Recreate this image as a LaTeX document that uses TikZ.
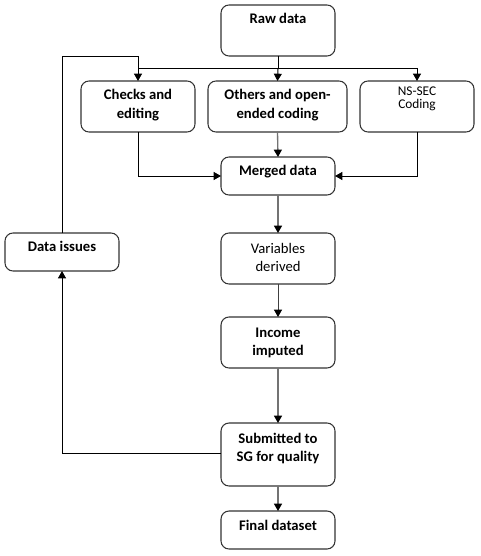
\documentclass[tikz,border=0pt]{standalone}
\usepackage{fontspec}
\setmainfont{Carlito}
\usetikzlibrary{arrows.meta,calc}
\newlength\pxu \setlength\pxu{0.75pt}
\newcommand\bxt[4]{\parbox[t][#2\pxu][t]{#1\pxu}{\centering\rule{0pt}{#3\pxu}#4\par}}
\tikzset{
  box/.style={draw=black!80, line width=0.8pt, rounded corners=6pt, inner sep=0pt, outer sep=0pt, anchor=north west,
    font=\fontsize{11}{13.5}\selectfont\bfseries},
  plain/.style={font=\fontsize{11}{13.5}\selectfont},
  small/.style={font=\fontsize{10}{9.4}\selectfont},
  ln/.style={draw=black, line width=0.75pt},
  arr/.style={ln, -{Triangle[width=6pt,length=5.5pt,black]}},
  garr/.style={draw=black!55, line width=1pt, -{Triangle[width=6pt,length=5.5pt,black]}}
}
\begin{document}
\begin{tikzpicture}[x=0.75pt,y=-0.75pt]
\useasboundingbox (0,0) rectangle (481,556);
\node[box] (raw) at (221,5) {\bxt{114}{51}{19}{Raw data}};
\node[box] (checks) at (81,81) {\bxt{114}{51}{19}{Checks and\\editing}};
\node[box] (others) at (208,81) {\bxt{139}{51}{19}{Others and open-\\ended coding}};
\node[box,small] (nssec) at (360,81) {\bxt{114}{51}{14.5}{NS-SEC\\Coding}};
\node[box] (merged) at (221,157) {\bxt{114}{38}{18.5}{Merged data}};
\node[box] (issues) at (5,233) {\bxt{114}{38}{18.5}{Data issues}};
\node[box,plain] (vars) at (221,233) {\bxt{114}{51}{20}{Variables\\derived}};
\node[box] (income) at (221,317) {\bxt{114}{51}{20}{Income\\imputed}};
\node[box] (subm) at (221,423) {\bxt{114}{63}{20}{Submitted to\\SG for quality}};
\node[box] (final) at (221,511) {\bxt{114}{38}{19.5}{Final dataset}};
\coordinate (jy) at (0,69);
\coordinate (ly) at (0,57);
\coordinate (sy) at (0,453.5);
\draw[ln] (raw.south) -- (raw.south |- jy);
\draw[ln] (checks.north |- jy) -- (raw.south |- jy);
\draw[arr] (raw.south |- jy) -- (others.north);
\draw[arr] (raw.south |- jy) -| (nssec.north);
\draw[arr] (issues.north) -- (issues.north |- ly) -| (checks.north);
\draw[arr] (checks.south) |- (merged.west);
\draw[arr] (nssec.south) |- (merged.east);
\draw[garr] (others.south) -- (merged.north);
\draw[garr] (merged.south) -- (vars.north);
\draw[arr,draw=black!75] (vars.south) -- (income.north);
\draw[garr] (income.south) -- (subm.north);
\draw[arr] (subm.west |- sy) -| (issues.south);
\draw[garr] (subm.south) -- (final.north);
\end{tikzpicture}
\end{document}
